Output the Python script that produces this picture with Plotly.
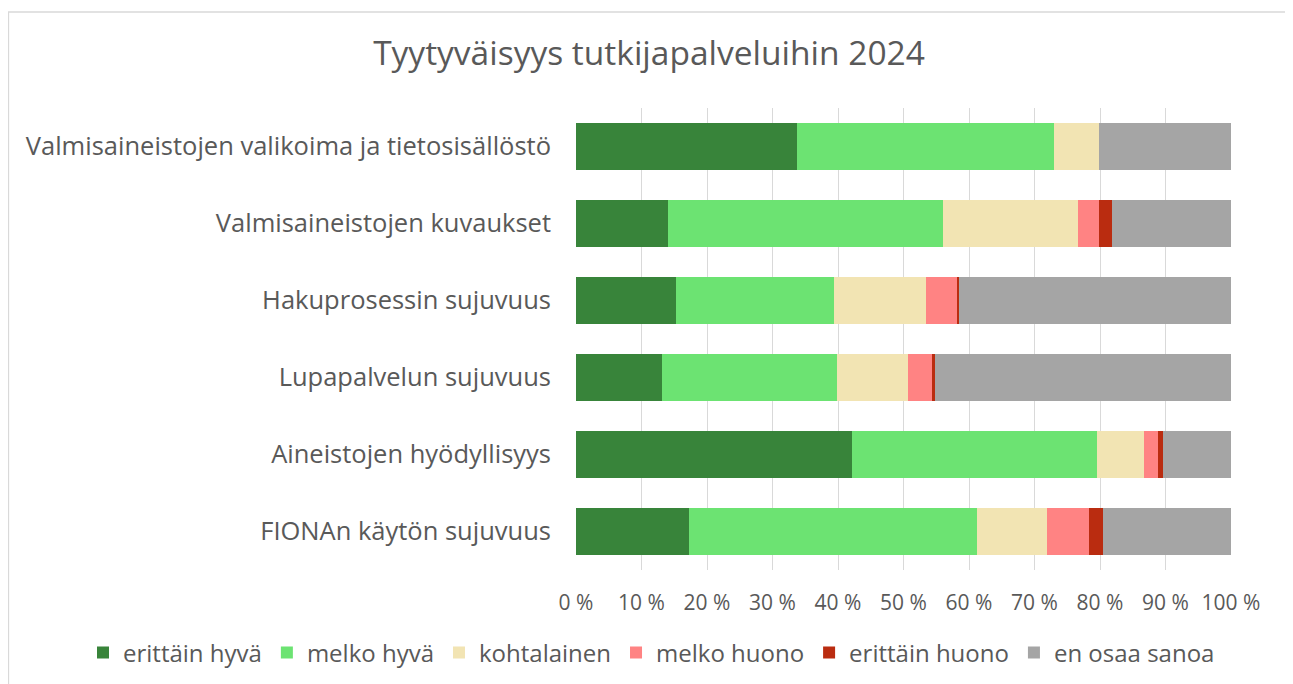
import plotly.graph_objects as go

categories = [
    "Valmisaineistojen valikoima ja tietosisällöstö",
    "Valmisaineistojen kuvaukset",
    "Hakuprosessin sujuvuus",
    "Lupapalvelun sujuvuus",
    "Aineistojen hyödyllisyys",
    "FIONAn käytön sujuvuus",
]
series_names = ["erittäin hyvä", "melko hyvä", "kohtalainen", "melko huono", "erittäin huono", "en osaa sanoa"]
erittain_hyva = [33.7, 14.1, 15.3, 13.2, 42.2, 17.3]
melko_hyva = [39.2, 42.0, 24.1, 26.6, 37.4, 43.9]
kohtalainen = [7.0, 20.6, 14.1, 10.9, 7.1, 10.7]
melko_huono = [0.0, 3.1, 4.6, 3.7, 2.1, 6.4]
erittain_huono = [0.0, 2.0, 0.4, 0.4, 0.8, 2.1]
en_osaa_sanoa = [20.1, 18.2, 41.5, 45.2, 10.4, 19.6]
tick_vals = [0, 10, 20, 30, 40, 50, 60, 70, 80, 90, 100]
tick_text = ["0 %", "10 %", "20 %", "30 %", "40 %", "50 %", "60 %", "70 %", "80 %", "90 %", "100 %"]

colors = ["#38843A", "#6CE372", "#F2E4B3", "#FF8383", "#BA2C10", "#A5A5A5"]
all_series = [erittain_hyva, melko_hyva, kohtalainen, melko_huono, erittain_huono, en_osaa_sanoa]

font_family = "Open Sans, Liberation Sans, Arial, sans-serif"
text_color = "#595959"

fig = go.Figure()
for name, vals, col in zip(series_names, all_series, colors):
    fig.add_trace(go.Bar(
        y=categories, x=vals, name=name, orientation="h",
        marker=dict(color=col, line=dict(width=0)),
        hovertemplate="%{y}: %{x:.1f} %<extra>" + name + "</extra>",
    ))

# page has an 8px body margin; figure coordinates = page coordinates - 8
OFF = 8
W, H = 1285, 676
L, R, T, B = 568, 62, 100, 114
pw = W - L - R
ph = H - T - B


def px2x(p):
    return (p - OFF - L) / pw


def py2y(p):
    return (H - B - (p - OFF)) / ph


fig.update_layout(
    width=W, height=H,
    barmode="stack",
    bargap=0.4,
    margin=dict(l=L, r=R, t=T, b=B, autoexpand=False),
    paper_bgcolor="white",
    plot_bgcolor="white",
    font=dict(family=font_family, color=text_color),
    title=dict(
        text="Tyytyväisyys tutkijapalveluihin 2024",
        x=(649 - OFF) / W, xanchor="center", xref="container",
        y=1 - (53 - OFF) / H, yanchor="middle", yref="container",
        font=dict(size=33.5, color=text_color, family=font_family),
    ),
    xaxis=dict(
        range=[0, 100], tickvals=tick_vals, ticktext=tick_text,
        showgrid=True, gridcolor="#D9D9D9", gridwidth=1.3,
        zeroline=False, showline=False, ticks="",
        ticklabelstandoff=18,
        tickfont=dict(size=21, color=text_color),
        fixedrange=True,
    ),
    yaxis=dict(
        autorange="reversed",
        showgrid=False, zeroline=False, showline=False, ticks="",
        ticklabelstandoff=24,
        tickfont=dict(size=25.5, color=text_color),
        fixedrange=True,
    ),
    legend=dict(
        orientation="h",
        x=px2x(83), xanchor="left",
        y=py2y(653), yanchor="middle",
        font=dict(size=24, color=text_color),
        traceorder="normal",
        itemwidth=30,
    ),
    shapes=[dict(
        type="rect", xref="paper", yref="paper",
        x0=px2x(8.5), x1=px2x(1289), y0=py2y(700), y1=py2y(12),
        line=dict(color="#D9D9D9", width=1.3), fillcolor="rgba(0,0,0,0)", layer="below",
    )],
)

fig.write_html("out.html")
